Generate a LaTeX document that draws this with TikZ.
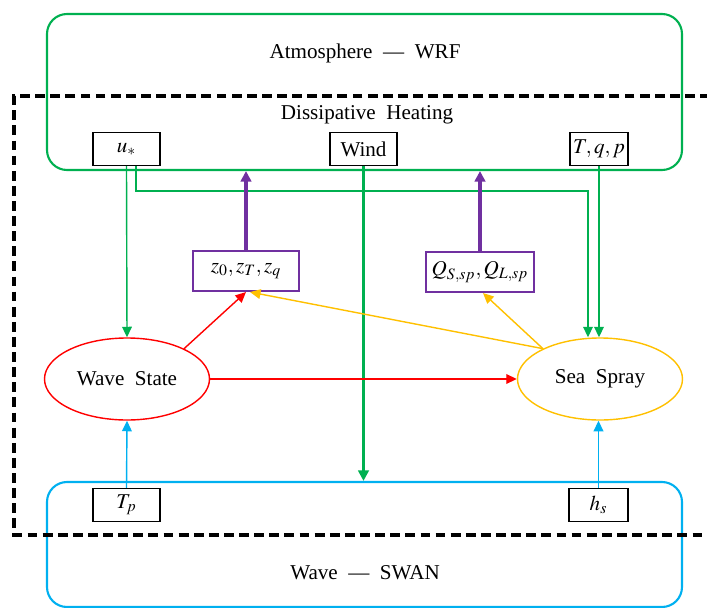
\documentclass[tikz,border=0pt]{standalone}
\usepackage{mathptmx}
\usepackage{fontspec}
\setmainfont{Liberation Serif}
\usetikzlibrary{shapes.geometric, arrows.meta, positioning, calc}

\definecolor{atmgreen}{RGB}{0,176,80}
\definecolor{wavered}{RGB}{255,0,0}
\definecolor{sprayorange}{RGB}{255,192,0}
\definecolor{swanblue}{RGB}{0,176,240}
\definecolor{fluxpurple}{RGB}{112,48,160}

\tikzset{
    model/.style={draw, rounded corners=0.4cm, line width=1.2pt, minimum width=12.7cm},
    varbox/.style={draw, line width=0.6pt, minimum width=1.34cm, minimum height=0.66cm, inner sep=1pt},
    fluxbox/.style={draw=fluxpurple, line width=1.2pt, minimum width=2.12cm, minimum height=0.8cm},
    process/.style={ellipse, draw, line width=0.8pt, minimum width=3.3cm, minimum height=1.64cm},
    link/.style={-{Triangle[length=6pt,width=5.5pt]}, line width=0.8pt},
    biglink/.style={-{Triangle[length=6pt,width=6pt]}, line width=1.9pt}
}

\begin{document}
\begin{tikzpicture}[font=\fontsize{12}{14}\selectfont]
    \useasboundingbox (0,0) rectangle (14.14,12.14);

    % Models
    \node[model, draw=atmgreen, minimum height=3.12cm] (atm) at (7.29,10.30) {};
    \node (atmlabel) at (7.30,11.08) {Atmosphere \ --- \ WRF};
    \node[model, draw=swanblue, minimum height=2.5cm] (swan) at (7.29,1.25) {};
    \node (swanlabel) at (7.30,0.68) {Wave \ --- \ SWAN};

    % Coupling region
    \draw[line width=2.4pt, dash pattern=on 5.6pt off 3pt]
        (14.2,10.22) -- (0.28,10.22) -- (0.28,1.44) -- (14.2,1.44);
    \node (heating) at (7.34,9.84) {Dissipative\ \ Heating};

    % Exchanged variables
    \node[varbox] (ustar) at (2.53,9.16) {$u_*$};
    \node[varbox] (wind) at (7.27,9.16) {Wind};
    \node[varbox, minimum width=1.16cm] (tqp) at (11.98,9.16) {$T,q,p$};
    \node[varbox] (tp) at (2.53,2.04) {$T_p$};
    \node[varbox, minimum width=1.18cm] (hs) at (11.97,2.04) {$h_s$};

    % Fluxes
    \node[fluxbox] (rough) at (4.92,6.72) {$z_0,z_T,z_q$};
    \node[fluxbox] (sprayflux) at (9.60,6.70) {$Q_{S,sp},Q_{L,sp}$};

    % Processes
    \node[process, draw=wavered] (wave) at (2.54,4.56) {Wave\ \ State};
    \node[process, draw=sprayorange] (spray) at (12.00,4.56) {Sea\ \ Spray};

    % Atmosphere forcing
    \draw[link, atmgreen] (ustar.south) -- (wave.north);
    \draw[link, atmgreen] ([xshift=0.19cm]ustar.south) -- ++(0,-0.5) -| ([xshift=-0.24cm]spray.north);
    \draw[link, atmgreen] (tqp.south) -- (tqp.south |- spray.north);
    \draw[biglink, atmgreen] (wind.south) -- (wind.south |- swan.north);

    % Feedback to atmosphere
    \draw[biglink, fluxpurple] (rough.north) -- (rough.north |- atm.south);
    \draw[biglink, fluxpurple] (sprayflux.north) -- (sprayflux.north |- atm.south);

    % Wave and spray effects
    \draw[link, wavered] (wave.28) -- (rough.south);
    \draw[link, wavered] (wave.east) -- (spray.west);
    \draw[link, sprayorange] (spray.152) -- ([xshift=0.08cm]rough.south);
    \draw[link, sprayorange] (spray.152) -- ([xshift=0.06cm]sprayflux.south);

    % Wave model forcing
    \draw[link, swanblue] (tp.north) -- (wave.south);
    \draw[link, swanblue] (hs.north) -- (hs.north |- spray.south);
\end{tikzpicture}
\end{document}
